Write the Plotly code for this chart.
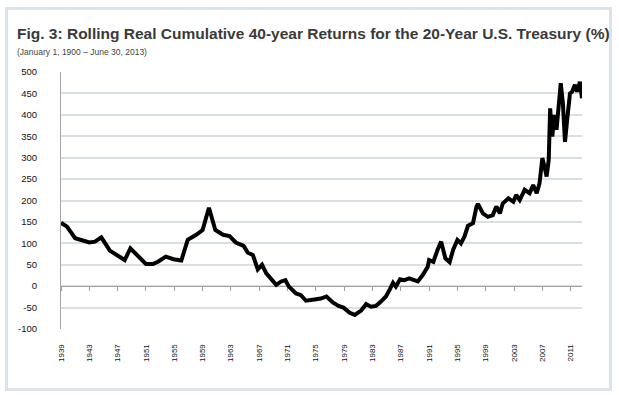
import plotly.graph_objects as go

# ---- data ----
years = [1939.0, 1939.85, 1941.0, 1941.9, 1943.0, 1943.8, 1944.7, 1945.9, 1946.8, 1948.0,
         1948.8, 1949.9, 1951.0, 1952.0, 1952.7, 1953.8, 1954.9, 1956.0, 1956.9, 1958.1,
         1959.0, 1959.9, 1960.8, 1961.9, 1962.8, 1963.7, 1964.8, 1965.4, 1966.1, 1966.8,
         1967.4, 1968.0, 1968.9, 1969.4, 1970.1, 1970.7, 1971.2, 1972.2, 1972.9, 1973.6,
         1974.8, 1975.7, 1976.5, 1977.4, 1978.2, 1978.9, 1979.8, 1980.5, 1981.4, 1982.1,
         1982.8, 1983.5, 1984.2, 1984.9, 1985.4, 1985.9, 1986.3, 1986.9, 1987.5, 1988.2,
         1988.9, 1989.4, 1990.1, 1990.8, 1991.0, 1991.6, 1992.2, 1992.7, 1993.3, 1993.9,
         1994.4, 1995.0, 1995.5, 1996.0, 1996.5, 1997.2, 1997.7, 1997.9, 1998.6, 1999.3,
         2000.0, 2000.5, 2001.0, 2001.4, 2002.2, 2002.9, 2003.3, 2003.8, 2004.5, 2005.2,
         2005.7, 2006.2, 2006.6, 2007.0, 2007.3, 2007.6, 2007.9, 2008.1, 2008.4, 2008.7,
         2009.0, 2009.3, 2009.6, 2009.9, 2010.2, 2010.5, 2010.9, 2011.2, 2011.6, 2011.9,
         2012.3, 2012.6]
returns = [148, 139, 112, 108, 102, 104, 114, 83, 73, 61,
           88, 69, 52, 52, 57, 69, 63, 60, 108, 120,
           131, 183, 131, 120, 117, 102, 94, 78, 73, 39,
           50, 30, 14, 3, 11, 14, -1, -17, -21, -34,
           -31, -29, -24, -38, -46, -50, -62, -67, -57, -42,
           -48, -46, -36, -24, -9, 8, -1, 16, 14, 18,
           14, 11, 26, 45, 61, 57, 85, 104, 65, 56,
           85, 108, 100, 116, 141, 147, 186, 192, 170, 162,
           166, 186, 170, 193, 205, 197, 213, 201, 225, 217,
           236, 217, 240, 299, 279, 256, 295, 415, 349, 400,
           365, 411, 474, 427, 337, 388, 450, 454, 470, 454,
           477, 439]

tick_years = [1939, 1943, 1947, 1951, 1955, 1959, 1963, 1967, 1971, 1975,
              1979, 1983, 1987, 1991, 1995, 1999, 2003, 2007, 2011]
y_tick_vals = [-100, -50, 0, 50, 100, 150, 200, 250, 300, 350, 400, 450, 500]
y_tick_text = ["-100", "-50", "0", "50", "100", "150", "200", "250", "300", "350", "400", "450", "500"]

title_text = "Fig. 3: Rolling Real Cumulative 40-year Returns for the 20-Year U.S. Treasury (%)"
subtitle_text = "(January 1, 1900 \u2013 June 30, 2013)"

# ---- layout geometry ----
W, H = 619, 395
ML, MR, MT, MB = 61, 37, 72, 66
PW, PH = W - ML - MR, H - MT - MB
def px(x):
    return (x - ML) / PW
def py(y):
    return (H - MB - y) / PH

FONT = "Liberation Sans Narrow, Arial Narrow, Liberation Sans, Arial, sans-serif"
xr = [years[0], years[-1]]

fig = go.Figure()
fig.add_trace(go.Scatter(x=years, y=returns, mode="lines",
                         line=dict(color="#000000", width=4), hoverinfo="skip",
                         showlegend=False))
fig.add_trace(go.Scatter(x=[years[0]], y=[0], xaxis="x2", mode="markers",
                         marker=dict(opacity=0), showlegend=False, hoverinfo="skip"))

fig.update_layout(
    width=W, height=H,
    margin=dict(l=ML, r=MR, t=MT, b=MB),
    paper_bgcolor="white", plot_bgcolor="white",
    font=dict(family=FONT, color="#222222"),
    xaxis=dict(range=xr, tickmode="array", tickvals=tick_years,
               ticktext=[str(t) for t in tick_years], tickangle=-90,
               tickfont=dict(size=8, color="#111111"),
               showgrid=False, zeroline=False, showline=False,
               ticks="outside", ticklen=11, tickcolor="rgba(0,0,0,0)"),
    xaxis2=dict(overlaying="x", anchor="free", position=100 / 600, side="bottom",
                range=xr, tickmode="array", tickvals=tick_years,
                showticklabels=False, showgrid=False, zeroline=False,
                showline=True, linecolor="#a0a0a0", linewidth=1,
                ticks="outside", ticklen=4, tickcolor="#a0a0a0", tickwidth=1,
                layer="below traces"),
    yaxis=dict(range=[-100, 500], tickmode="array", tickvals=y_tick_vals,
               ticktext=y_tick_text, tickfont=dict(size=9.5, color="#111111"),
               showgrid=True, gridcolor="#d8e0e6", gridwidth=2,
               zeroline=False, showline=True, linecolor="#a6a6a6", linewidth=1,
               ticks="outside", ticklen=21, tickcolor="rgba(0,0,0,0)",
               layer="below traces"),
    shapes=[dict(type="rect", xref="paper", yref="paper",
                 x0=px(6.5), x1=px(610.5), y0=py(389.5), y1=py(8.5),
                 line=dict(color="#dce4eb", width=3), fillcolor="rgba(0,0,0,0)",
                 layer="below")],
    annotations=[
        dict(text="<b>" + title_text + "</b>", xref="paper", yref="paper",
             x=px(15), y=py(33), xanchor="left", yanchor="middle", showarrow=False,
             font=dict(family=FONT, size=15.5, color="#3a3a3a")),
        dict(text=subtitle_text, xref="paper", yref="paper",
             x=px(15), y=py(52), xanchor="left", yanchor="middle", showarrow=False,
             font=dict(family=FONT, size=8.5, color="#444444")),
    ],
)

fig.write_html("out.html", config={"displayModeBar": False},
               post_script="document.body.style.margin='0';")
